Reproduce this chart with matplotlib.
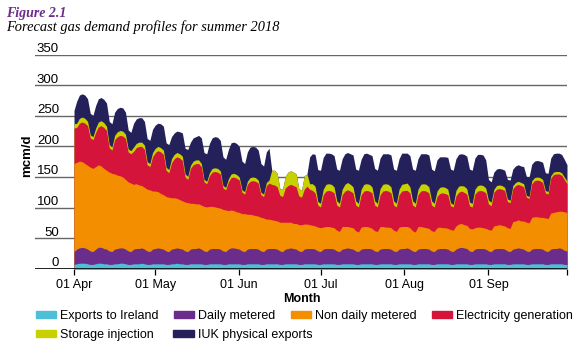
import numpy as np
import pandas as pd
import matplotlib
matplotlib.use('Agg')
import matplotlib.pyplot as plt
from matplotlib.patches import Patch
from matplotlib.transforms import ScaledTranslation

plt.rcParams['font.family'] = ['Liberation Sans', 'DejaVu Sans']

# daily values, 01 Apr (Sun) then one row per Mon..Sun week
dates = pd.date_range('2018-04-01', '2018-09-30', freq='D')

exports_ireland = [7,
    8, 9, 9, 9, 8, 7, 7,
    8, 9, 9, 8, 8, 7, 7,
    8, 8, 9, 9, 8, 7, 7,
    8, 8, 8, 9, 8, 7, 7,
    8, 8, 8, 8, 8, 7, 7,
    8, 8, 9, 8, 8, 7, 7,
    8, 8, 8, 8, 8, 7, 7,
    8, 8, 8, 8, 8, 7, 7,
    8, 8, 8, 8, 8, 7, 7,
    8, 8, 8, 8, 8, 7, 7,
    8, 8, 8, 8, 8, 7, 7,
    8, 8, 8, 8, 8, 7, 7,
    8, 8, 8, 8, 8, 7, 7,
    8, 8, 8, 8, 8, 7, 7,
    8, 8, 8, 8, 8, 7, 7,
    8, 8, 8, 8, 8, 7, 7,
    8, 8, 8, 8, 8, 7, 7,
    8, 8, 8, 8, 8, 7, 7,
    8, 8, 8, 8, 8, 7, 7,
    8, 8, 8, 8, 8, 7, 7,
    8, 8, 8, 8, 8, 7, 7,
    8, 8, 8, 8, 8, 7, 7,
    8, 8, 8, 8, 8, 7, 7,
    8, 8, 8, 8, 8, 7, 7,
    8, 8, 8, 8, 8, 7, 7,
    8, 8, 8, 8, 8, 7, 7]

daily_metered = [21,
    24, 25, 26, 25, 24, 22, 21,
    24, 26, 26, 25, 24, 22, 21,
    24, 25, 25, 25, 24, 22, 21,
    24, 25, 25, 25, 24, 22, 21,
    24, 25, 26, 25, 24, 22, 21,
    24, 25, 25, 25, 24, 22, 21,
    24, 25, 25, 26, 24, 22, 21,
    24, 25, 25, 25, 24, 22, 21,
    24, 26, 26, 25, 24, 22, 21,
    24, 25, 25, 25, 24, 22, 21,
    24, 25, 25, 25, 24, 22, 21,
    24, 25, 26, 25, 24, 22, 21,
    24, 25, 25, 25, 24, 22, 21,
    24, 25, 25, 25, 24, 22, 21,
    24, 25, 26, 25, 24, 22, 21,
    24, 25, 25, 25, 24, 22, 21,
    24, 25, 25, 25, 24, 22, 21,
    24, 25, 25, 26, 24, 22, 21,
    24, 25, 25, 25, 24, 22, 21,
    24, 25, 25, 25, 24, 22, 21,
    24, 26, 27, 26, 25, 22, 21,
    24, 25, 25, 25, 24, 22, 21,
    24, 25, 25, 25, 24, 22, 21,
    24, 25, 26, 25, 24, 22, 21,
    24, 25, 25, 25, 24, 22, 21,
    24, 25, 25, 26, 25, 23, 22]

non_daily_metered = [144,
    142, 142, 140, 138, 137, 137, 136,
    135, 135, 133, 131, 129, 129, 128,
    123, 120, 118, 116, 114, 113, 112,
    106, 106, 104, 102, 101, 101, 101,
    95, 94, 92, 90, 89, 89, 89,
    84, 83, 81, 80, 79, 80, 80,
    75, 74, 73, 72, 72, 73, 73,
    70, 69, 68, 67, 67, 68, 68,
    63, 62, 61, 60, 60, 61, 62,
    57, 56, 55, 54, 54, 55, 55,
    49, 48, 47, 46, 46, 47, 48,
    44, 43, 42, 41, 42, 43, 44,
    41, 40, 39, 38, 38, 39, 39,
    36, 36, 36, 35, 35, 34, 33,
    37, 36, 35, 35, 35, 33, 32,
    36, 36, 36, 35, 34, 33, 33,
    37, 36, 35, 35, 35, 34, 33,
    36, 36, 36, 35, 35, 33, 32,
    37, 36, 35, 34, 34, 33, 33,
    35, 35, 34, 34, 34, 35, 35,
    38, 39, 39, 38, 38, 37, 37,
    35, 35, 35, 34, 34, 35, 35,
    38, 38, 39, 38, 38, 38, 38,
    45, 45, 46, 45, 46, 47, 47,
    52, 52, 52, 51, 52, 54, 54,
    59, 59, 60, 60, 61, 63, 63]

electricity_generation = [58,
    57, 62, 65, 66, 65, 48, 47,
    56, 62, 66, 67, 65, 40, 38,
    56, 63, 66, 67, 67, 49, 48,
    54, 59, 63, 64, 62, 40, 38,
    56, 63, 67, 68, 66, 43, 40,
    57, 64, 68, 68, 66, 41, 38,
    57, 63, 66, 66, 63, 40, 38,
    50, 56, 58, 58, 56, 35, 33,
    47, 53, 55, 55, 53, 35, 32,
    49, 54, 56, 56, 54, 37, 35,
    55, 59, 58, 58, 56, 44, 42,
    56, 60, 62, 62, 60, 47, 45,
    57, 62, 58, 57, 54, 36, 34,
    53, 58, 59, 59, 57, 41, 40,
    52, 58, 60, 59, 57, 42, 41,
    53, 58, 59, 59, 58, 42, 40,
    52, 58, 60, 59, 57, 41, 40,
    53, 58, 59, 59, 57, 42, 41,
    52, 58, 60, 60, 58, 42, 40,
    51, 55, 57, 56, 55, 39, 38,
    49, 52, 53, 53, 51, 37, 36,
    55, 59, 60, 60, 58, 42, 40,
    55, 59, 59, 59, 58, 43, 42,
    54, 58, 58, 58, 56, 41, 40,
    55, 59, 60, 60, 57, 41, 40,
    57, 62, 62, 61, 59, 53, 47]

storage_injection = [7,
    7, 8, 8, 8, 7, 5, 5,
    7, 8, 8, 8, 7, 5, 5,
    7, 8, 8, 8, 7, 5, 5,
    7, 7, 7, 7, 7, 5, 5,
    7, 7, 7, 7, 7, 5, 5,
    7, 7, 7, 7, 7, 5, 5,
    5, 6, 6, 6, 5, 4, 4,
    5, 6, 6, 6, 5, 4, 4,
    5, 6, 6, 6, 5, 4, 4,
    5, 6, 6, 6, 5, 4, 4,
    5, 5, 23, 24, 22, 11, 12,
    19, 22, 22, 22, 21, 12, 11,
    22, 20, 9, 11, 11, 6, 6,
    9, 11, 11, 11, 10, 7, 6,
    9, 11, 12, 11, 10, 7, 6,
    9, 11, 11, 11, 10, 7, 6,
    10, 11, 11, 11, 10, 7, 6,
    9, 11, 11, 12, 10, 7, 6,
    9, 11, 11, 11, 10, 7, 6,
    9, 10, 10, 10, 9, 5, 4,
    9, 10, 9, 10, 9, 6, 6,
    8, 9, 9, 9, 8, 6, 6,
    5, 6, 6, 6, 5, 4, 4,
    5, 5, 5, 5, 5, 3, 3,
    5, 5, 5, 5, 5, 4, 4,
    4, 4, 4, 4, 4, 4, 4]

iuk_exports = [22,
    36, 38, 38, 38, 37, 35, 35,
    37, 38, 38, 38, 38, 38, 38,
    38, 38, 38, 38, 36, 31, 30,
    39, 40, 40, 40, 39, 38, 38,
    38, 38, 38, 39, 39, 40, 41,
    36, 35, 35, 36, 38, 42, 44,
    38, 38, 38, 40, 42, 44, 45,
    48, 50, 51, 51, 50, 47, 46,
    48, 51, 51, 51, 50, 47, 46,
    48, 50, 50, 50, 49, 47, 46,
    50, 52, 0, 0, 0, 0, 0,
    0, 0, 0, 0, 0, 0, 0,
    0, 0, 44, 49, 52, 52, 54,
    52, 51, 50, 50, 51, 52, 54,
    50, 50, 49, 50, 52, 52, 54,
    49, 50, 50, 49, 51, 53, 54,
    50, 50, 49, 50, 52, 52, 54,
    50, 51, 50, 49, 51, 52, 54,
    50, 50, 49, 50, 52, 52, 53,
    51, 50, 49, 50, 52, 55, 56,
    52, 52, 52, 52, 53, 54, 54,
    51, 51, 50, 50, 46, 34, 33,
    28, 27, 27, 27, 28, 32, 33,
    27, 27, 27, 27, 28, 31, 32,
    27, 27, 27, 27, 28, 29, 30,
    29, 30, 30, 30, 30, 29, 27]

names = ['Exports to Ireland', 'Daily metered', 'Non daily metered',
         'Electricity generation', 'Storage injection', 'IUK physical exports']
colors = ['#4fbfd7', '#6a2d8c', '#f28e00', '#d5143c', '#c8d000', '#24215a']

series = [exports_ireland, daily_metered, non_daily_metered,
          electricity_generation, storage_injection, iuk_exports]
tops = np.cumsum(np.array(series, dtype=float), axis=0)

fig = plt.figure(figsize=(5.86, 3.53), dpi=100)
ax = fig.add_axes([35/586, 1-268.7/353, 532/586, 214/353])

# paint from the top layer down so there are no seams
for i in range(len(series)-1, -1, -1):
    ax.fill_between(dates, 0, tops[i], color=colors[i], lw=0)

ax.set_ylim(0, 350)
ax.set_xlim(dates[0] - pd.Timedelta(days=14.4), dates[-1])
ax.set_axisbelow(True)
for s in ax.spines.values():
    s.set_visible(False)

ax.set_yticks(np.arange(0, 351, 50))
ax.grid(axis='y', color='#666666', lw=1.0)
ax.axhline(0, color='black', lw=1.2, zorder=5)
ax.tick_params(axis='y', length=0, pad=0, labelsize=9.5)
for lab in ax.get_yticklabels():
    lab.set_verticalalignment('baseline')
    lab.set_transform(lab.get_transform() + ScaledTranslation(24/100, 2.5/100, fig.dpi_scale_trans))

month_starts = pd.date_range('2018-04-01', '2018-09-01', freq='MS')
ax.set_xticks(list(month_starts) + [dates[-1]])
ax.set_xticklabels([d.strftime('%d %b') for d in month_starts] + [''])
ax.tick_params(axis='x', length=4.5, width=0.9, pad=3, labelsize=9)

fig.text(27/586, 1-156/353, 'mcm/d', rotation=90, weight='bold', fontsize=9.5,
         ha='center', va='center')
fig.text(302/586, 1-298.7/353, 'Month', weight='bold', fontsize=9,
         ha='center', va='center')

fig.text(6/586, 1-13/353, 'Figure 2.1', family='Liberation Serif', style='italic',
         weight='bold', color='#6d2c8a', fontsize=10, va='center')
fig.text(6/586, 1-27/353, 'Forecast gas demand profiles for summer 2018',
         family='Liberation Serif', style='italic', fontsize=10.4, va='center')

# legend laid out as two independent rows, like the reference
leg_kw = dict(loc='upper left', frameon=False, fontsize=9, handlelength=1.65,
              handleheight=0.54, handletextpad=0.32, borderpad=0, borderaxespad=0)
row1 = [0, 1, 2, 3]
row2 = [4, 5]
fig.legend([Patch(color=colors[i]) for i in row1], [names[i] for i in row1],
           bbox_to_anchor=(35.6/586, 1-310/353), ncol=4, columnspacing=1.2, **leg_kw)
fig.legend([Patch(color=colors[i]) for i in row2], [names[i] for i in row2],
           bbox_to_anchor=(35.6/586, 1-329/353), ncol=2, columnspacing=1.55, **leg_kw)

fig.savefig('out.png', dpi=100)
